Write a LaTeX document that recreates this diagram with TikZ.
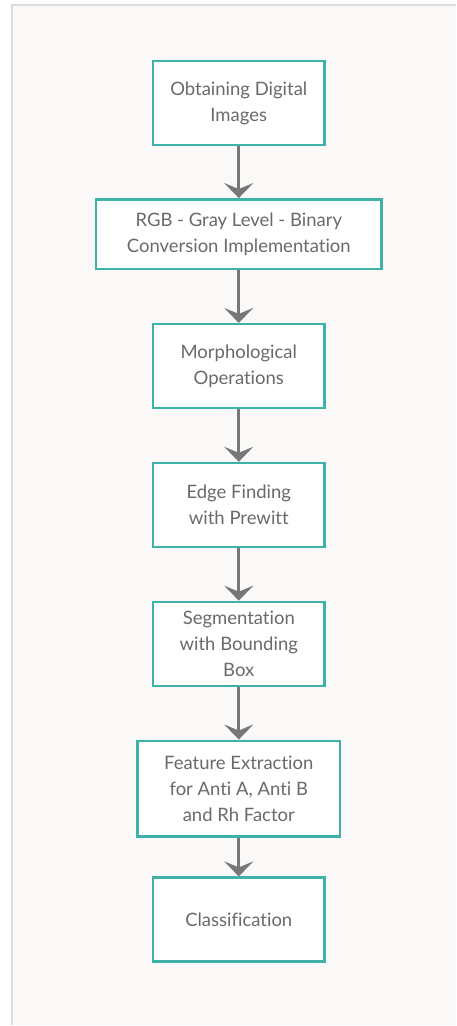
\documentclass[tikz,border=0pt]{standalone}
\usepackage{fontspec}
\setmainfont{Lato}[Ligatures={NoCommon}]
\usetikzlibrary{arrows.meta,positioning}
\definecolor{tealline}{HTML}{3EB1A9}
\definecolor{arrowgray}{HTML}{777777}
\definecolor{textgray}{HTML}{6A6A6A}
\definecolor{pagebg}{HTML}{FAF9F7}
\definecolor{framegray}{HTML}{DCDCDC}

\begin{document}
\begin{tikzpicture}[x=1pt, y=1pt, node distance=52.5pt, every node/.style={font=\fontsize{18.5}{26}\selectfont, text=textgray}, box/.style={draw=tealline, line width=2.5pt, fill=white, align=center, minimum width=172pt, minimum height=84pt, inner sep=0pt}, arr/.style={-{Stealth[length=15pt,width=29pt,inset=6pt]}, draw=arrowgray, line width=3pt}]
% page and frame
\fill[white] (0,0) rectangle (456,-1026);
\fill[pagebg] (12,-5) rectangle (456,-1026);
\draw[framegray, line width=2pt] (12,-1026) -- (12,-5) -- (456,-5);
\useasboundingbox (0,0) rectangle (456,-1026);
% steps
\node[box] (obtain) at (239,-103) {Obtaining Digital\\Images};
\node[box, below=52pt of obtain, minimum width=286pt, minimum height=70pt] (convert) {RGB - Gray Level - Binary\\Conversion Implementation};
\node[box, below=of convert] (morph) {Morphological\\Operations};
\node[box, below=of morph] (edge) {Edge Finding\\with Prewitt};
\node[box, below=of edge] (segment) {Segmentation\\with Bounding\\Box};
\node[box, below=of segment, minimum width=203pt, minimum height=96pt] (feature) {Feature Extraction\\for Anti A, Anti B\\and Rh Factor};
\node[box, below=38.5pt of feature] (classify) {Classification};
% arrows
\draw[arr] (obtain) -- (convert);
\draw[arr] (convert) -- (morph);
\draw[arr] (morph) -- (edge);
\draw[arr] (edge) -- (segment);
\draw[arr] (segment) -- (feature);
\draw[arr] (feature) -- (classify);
\end{tikzpicture}
\end{document}
